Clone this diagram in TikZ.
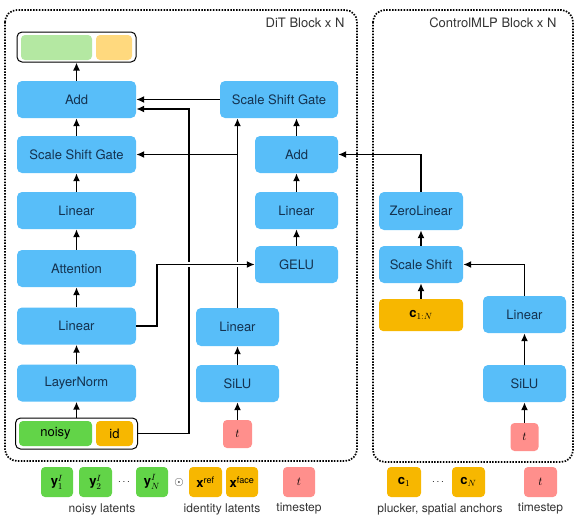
\documentclass[tikz,border=0pt]{standalone}
\usepackage{fontspec}
\setmainfont{TeX Gyre Heros}
\usepackage{amsfonts}
\usepackage{bm}
\usetikzlibrary{arrows.meta}
\definecolor{kblue}{HTML}{58BEF9}
\definecolor{ktext}{HTML}{14324F}
\definecolor{kgreen}{HTML}{62D448}
\definecolor{korange}{HTML}{F7B700}
\definecolor{kpink}{HTML}{FF8F8C}
\definecolor{klgreen}{HTML}{B4E8A2}
\definecolor{klorange}{HTML}{FFD97E}
\definecolor{kgray}{HTML}{333333}
\tikzset{
  blk/.style={rectangle, rounded corners=5pt, fill=kblue, text=ktext, inner sep=0pt,
    font=\fontsize{13}{15}\selectfont},
  tok/.style={rectangle, rounded corners=4pt, inner sep=0pt, minimum height=30pt,
    font=\fontsize{13}{15}\selectfont},
  holder/.style={rectangle, rounded corners=5pt, draw=black, line width=1pt, fill=white, inner sep=0pt},
  flow/.style={line width=1.9pt, -{Latex[length=8pt,width=7pt]}},
  frame/.style={line width=1.7pt, dash pattern=on 1.5pt off 1.4pt, rounded corners=12pt},
  lbltext/.style={text=kgray, font=\fontsize{12}{14}\selectfont},
}
\begin{document}
\begin{tikzpicture}[x=1pt,y=-1pt]
	\useasboundingbox (0,0) rectangle (577,517);
	% dotted frames
	\draw[frame] (5,10) rectangle (357,461);
	\draw[frame] (373,10) rectangle (573,462);
	\node[anchor=east, text=kgray, font=\fontsize{13}{15}\selectfont] (ditlbl) at (348,23) {DiT Block x N};
	\node[anchor=east, text=kgray, font=\fontsize{13}{15}\selectfont] (mlplbl) at (560,23) {ControlMLP Block x N};
	% output tokens
	\node[holder, minimum width=119pt, minimum height=30pt] (outbox) at (76.5,47) {};
	\node[tok, fill=klgreen, minimum width=71pt, minimum height=25pt] (outnoisy) at (56.5,47.5) {};
	\node[tok, fill=klorange, minimum width=36pt, minimum height=25pt] (outid) at (114,47.5) {};
	% DiT left column
	\node[blk, minimum width=119pt, minimum height=37pt] (addL) at (76.5,99.5) {Add};
	\node[blk, minimum width=119pt, minimum height=37pt] (ssgL) at (76.5,154.5) {Scale Shift Gate};
	\node[blk, minimum width=119pt, minimum height=37pt] (linL2) at (76.5,210.5) {Linear};
	\node[blk, minimum width=119pt, minimum height=37pt] (attn) at (76.5,268.5) {Attention};
	\node[blk, minimum width=119pt, minimum height=37pt] (linL1) at (76.5,326) {Linear};
	\node[blk, minimum width=119pt, minimum height=37pt] (lnorm) at (76.5,383) {LayerNorm};
	% input tokens
	\node[holder, minimum width=122pt, minimum height=31pt] (inbox) at (76.5,433.5) {};
	\node[tok, fill=kgreen, minimum width=73pt, minimum height=25pt] (noisy) at (55.5,433.5) {noisy};
	\node[tok, fill=korange, minimum width=37pt, minimum height=25pt] (idtok) at (114.5,433.5) {id};
	% DiT right column
	\node[blk, minimum width=118pt, minimum height=37pt] (ssgR) at (279,99.5) {Scale Shift Gate};
	\node[blk, minimum width=83pt, minimum height=37pt] (addR) at (296.5,154.5) {Add};
	\node[blk, minimum width=83pt, minimum height=37pt] (linR) at (296.5,210.5) {Linear};
	\node[blk, minimum width=83pt, minimum height=37pt] (gelu) at (296.5,264.5) {GELU};
	% timestep branch
	\node[blk, minimum width=83pt, minimum height=38pt] (linM) at (237.5,327) {Linear};
	\node[blk, minimum width=83pt, minimum height=37pt] (siluM) at (237.5,383.5) {SiLU};
	\node[tok, fill=kpink, minimum width=29pt, minimum height=28pt] (tM) at (237.5,434) {$t$};
	% ControlMLP
	\node[blk, minimum width=84pt, minimum height=38pt] (zero) at (421,211) {ZeroLinear};
	\node[blk, minimum width=84pt, minimum height=37pt] (scsh) at (421,264.5) {Scale Shift};
	\node[tok, fill=korange, minimum width=84pt, minimum height=32pt] (cpose) at (421,315) {$\mathbf{c}_{1:N}$};
	\node[blk, minimum width=83pt, minimum height=37pt] (linC) at (524.5,314.5) {Linear};
	\node[blk, minimum width=83pt, minimum height=37pt] (siluC) at (524.5,383.5) {SiLU};
	\node[tok, fill=kpink, minimum width=28pt, minimum height=28pt] (tC) at (524.5,437) {$t$};
	% bottom row
	\node[tok, fill=kgreen, minimum width=32pt] (ya) at (57,482) {$\mathbf{y}^{I}_{1}$};
	\node[tok, fill=kgreen, minimum width=33pt] (yb) at (95.5,482) {$\mathbf{y}^{I}_{2}$};
	\node (ydots) at (124,482) {$\cdots$};
	\node[tok, fill=kgreen, minimum width=32pt] (yn) at (152,482) {$\mathbf{y}^{I}_{N}$};
	\node[font=\large] (odot) at (179,482) {$\odot$};
	\node[tok, fill=korange, minimum width=33pt] (xref) at (205.5,482) {$\mathbf{x}^{\mathrm{ref}}$};
	\node[tok, fill=korange, minimum width=32pt] (xface) at (242,482) {$\mathbf{x}^{\mathrm{face}}$};
	\node[tok, fill=kpink, minimum width=32pt] (tbot) at (299,482) {$t$};
	\node[tok, fill=korange, minimum width=34pt] (ca) at (404,482) {$\mathbf{c}_{1}$};
	\node (cdots) at (438,482) {$\cdots$};
	\node[tok, fill=korange, minimum width=33pt] (cn) at (468.5,482) {$\mathbf{c}_{N}$};
	\node[tok, fill=kpink, minimum width=33pt] (tbotc) at (540.5,482) {$t$};
	\node[lbltext] (noisylbl) at (102,509) {noisy latents};
	\node[lbltext] (idlbl) at (222,509) {identity latents};
	\node[lbltext] (tlbl) at (299,509) {timestep};
	\node[lbltext] (clbl) at (440,509) {plucker, spatial anchors};
	\node[lbltext] (tlblc) at (540.5,509) {timestep};
	% left column arrows
	\draw[flow] (inbox.north) -- (lnorm.south);
	\draw[flow] (lnorm.north) -- (linL1.south);
	\draw[flow] (linL1.north) -- (attn.south);
	\draw[flow] (attn.north) -- (linL2.south);
	\draw[flow] (linL2.north) -- (ssgL.south);
	\draw[flow] (ssgL.north) -- (addL.south);
	\draw[flow] (addL.north) -- (outbox.south);
	% id skip and gates
	\draw[flow] (inbox.east) -- ++(51,0) |- ([yshift=-9.5pt]addL.east);
	\draw[flow] (ssgR.west) -- (addL.east);
	\draw[flow] (tM.north) -- (siluM.south);
	\draw[flow] (siluM.north) -- (linM.south);
	\draw[flow] (linM.north) -- (linM.north |- ssgR.south);
	\draw[flow] (linM.north |- ssgL.east) -- (ssgL.east);
	% MLP branch (drawn over the verticals)
	\draw[flow, preaction={draw=white, line width=4.5pt, -}] (linL1.east) -- ++(21,0) |- (gelu.west);
	\draw[flow] (gelu.north) -- (linR.south);
	\draw[flow] (linR.north) -- (addR.south);
	\draw[flow] (addR.north) -- (addR.north |- ssgR.south);
	% ControlMLP arrows
	\draw[flow] (tC.north) -- (siluC.south);
	\draw[flow] (siluC.north) -- (linC.south);
	\draw[flow] (linC.north) |- (scsh.east);
	\draw[flow] (cpose.north) -- (scsh.south);
	\draw[flow] (scsh.north) -- (zero.south);
	\draw[flow] (zero.north) |- (addR.east);
\end{tikzpicture}
\end{document}
